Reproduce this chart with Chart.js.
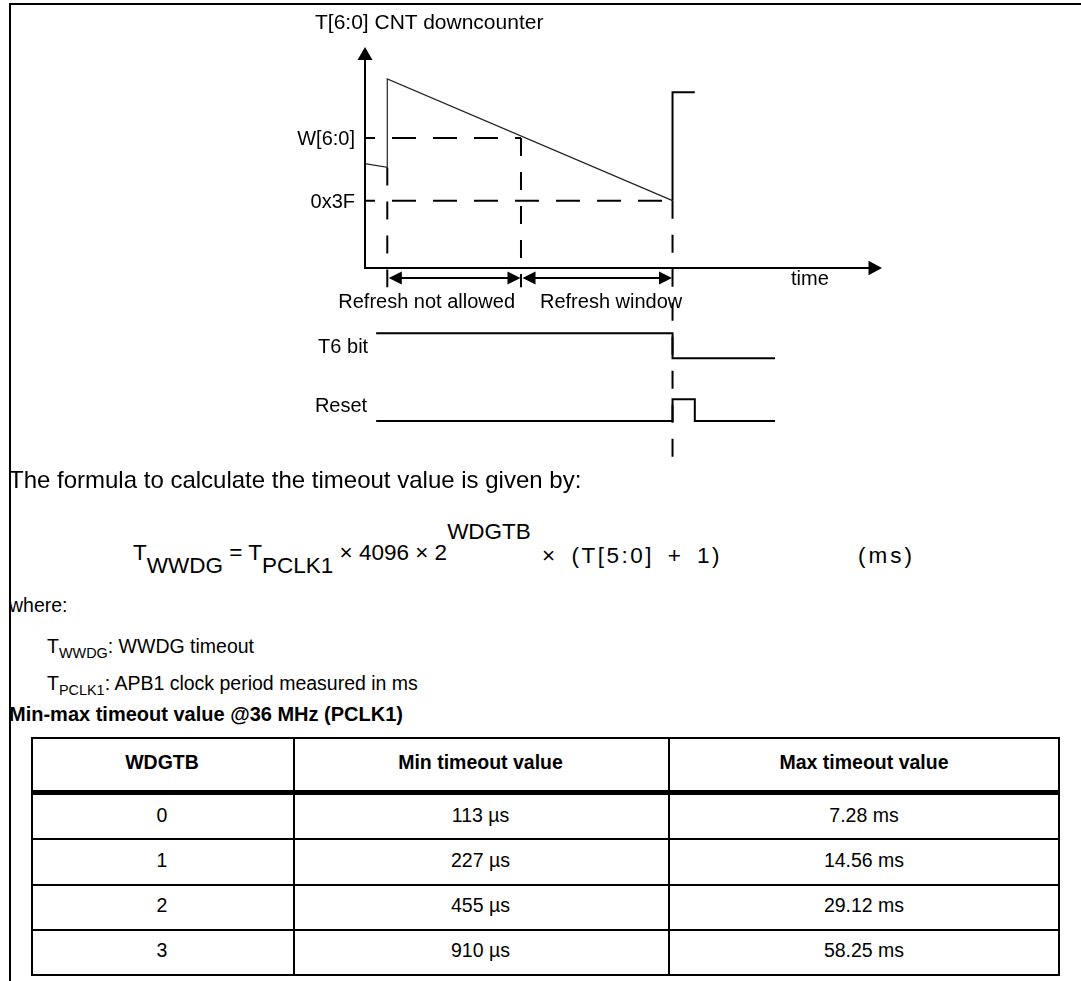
<!DOCTYPE html>
<html>
<head>
<meta charset="utf-8">
<title>WWDG timing diagram</title>
<script src="https://cdn.jsdelivr.net/npm/chart.js@4.4.1/dist/chart.umd.min.js"></script>
<style>
  html, body { margin:0; padding:0; background:#fff; }
  body { width:1081px; height:981px; position:relative; overflow:hidden;
         font-family:"Liberation Sans", Arial, Helvetica, sans-serif; color:#000; }
  .t { position:absolute; white-space:nowrap; line-height:1; }
  .c { transform:translateX(-50%); }
  .hl { position:absolute; background:#000; }
  #diagram { position:absolute; left:0; top:0; width:1081px; height:480px; }
  .lo { position:relative; top:13px; }
  .up { position:relative; top:-21px; }
  .sb { font-size:0.74em; position:relative; top:5px; }
</style>
</head>
<body>
<div class="hl" style="left:9px;top:3px;width:1072px;height:2px"></div>
<div class="hl" style="left:9px;top:3px;width:2px;height:978px"></div>
<div id="diagram"><canvas id="c" width="1081" height="480"></canvas></div>
<div id="txt"></div>
<script>
// ---------------- data ----------------
// time in counter clock ticks (refresh happens at t = 0), counter values in decimal
const cntTime   = [-5, 0, 0, 64];
const cntValue  = [82.5, 80.5, 127, 63];
const reloadTime  = [64, 64, 69];
const reloadValue = [63, 120, 120];
const levelNames  = ['W[6:0]', '0x3F'];
const levelValues = [96, 63];
const levelEnd    = [30, 64];          // time where each threshold line stops
const markerTime   = [0, 30, 64];      // refresh, window opens, timeout
const markerTop    = [80.5, 96, 63];
const markerBottom = [17.5, 17.5, -75];
const t6Time   = [-2.5, 64, 64, 87];
const t6Value  = [1, 1, 0, 0];
const rstTime  = [-2.5, 64, 64, 69, 69, 87];
const rstValue = [0, 0, 1, 1, 0, 0];
const phaseNames = ['Refresh not allowed', 'Refresh window'];
const phaseStart = [0, 30];
const phaseEnd   = [30, 64];
const signalNames = ['T6 bit', 'Reset'];
// table
const colHeads   = ['WDGTB', 'Min timeout value', 'Max timeout value'];
const wdgtb      = ['0', '1', '2', '3'];
const minTimeout = ['113 µs', '227 µs', '455 µs', '910 µs'];
const maxTimeout = ['7.28 ms', '14.56 ms', '29.12 ms', '58.25 ms'];

// ---------------- chart ----------------
const TMIN = -5, TMAX = 111;
const pts = (xs, ys) => xs.map((t, i) => ({ x: t, y: ys[i] }));
const base = { borderColor: '#000', pointRadius: 0, fill: false, tension: 0, clip: false, borderWidth: 2 };
const DASH = [24, 17];

const datasets = [
  Object.assign({}, base, { data: pts(cntTime, cntValue), borderColor: '#222', borderWidth: 1.2, yAxisID: 'y' }),
  Object.assign({}, base, { data: pts(reloadTime, reloadValue), yAxisID: 'y' }),
  ...levelValues.map((v, i) => Object.assign({}, base, {
    data: [{ x: TMIN, y: v }, { x: levelEnd[i], y: v }], borderDash: DASH, borderDashOffset: 14, yAxisID: 'y' })),
  ...markerTime.map((t, i) => Object.assign({}, base, {
    data: [{ x: t, y: markerTop[i] }, { x: t, y: markerBottom[i] }], borderDash: [18, 16], yAxisID: 'y' })),
  Object.assign({}, base, { data: pts(t6Time, t6Value), yAxisID: 'yT6' }),
  Object.assign({}, base, { data: pts(rstTime, rstValue), yAxisID: 'yR' })
];

function head(ctx, tx, ty, dx, dy, len, half) {
  const bx = tx - dx * len, by = ty - dy * len, px = -dy, py = dx;
  ctx.beginPath();
  ctx.moveTo(tx, ty);
  ctx.lineTo(bx + px * half, by + py * half);
  ctx.lineTo(bx - px * half, by - py * half);
  ctx.closePath();
  ctx.fill();
}

const decor = {
  id: 'decor',
  afterDatasetsDraw(chart) {
    const { ctx, chartArea: a, scales } = chart;
    const x = scales.x, y = scales.y;
    ctx.save();
    ctx.strokeStyle = '#000'; ctx.fillStyle = '#000'; ctx.lineWidth = 2;
    // axes
    ctx.beginPath(); ctx.moveTo(a.left, a.bottom + 1); ctx.lineTo(a.left, a.top + 10); ctx.stroke();
    head(ctx, a.left, a.top, 0, -1, 13, 7.5);
    ctx.beginPath(); ctx.moveTo(a.left - 1, a.bottom); ctx.lineTo(a.right - 10, a.bottom); ctx.stroke();
    head(ctx, a.right, a.bottom, 1, 0, 13.5, 7.2);
    // phase double arrows
    const ay = a.bottom + 10;
    phaseStart.forEach((s, i) => {
      const x1 = x.getPixelForValue(s) + 1.5, x2 = x.getPixelForValue(phaseEnd[i]) - 0.5;
      ctx.beginPath(); ctx.moveTo(x1 + 6, ay); ctx.lineTo(x2 - 6, ay); ctx.stroke();
      head(ctx, x1, ay, -1, 0, 13, 6.5);
      head(ctx, x2, ay, 1, 0, 13, 6.5);
    });
    // labels
    ctx.font = '20px "Liberation Sans", Arial, sans-serif';
    ctx.textBaseline = 'alphabetic';
    ctx.textAlign = 'right';
    levelNames.forEach((n, i) => ctx.fillText(n, a.left - 10, y.getPixelForValue(levelValues[i]) + 7));
    ctx.fillText(signalNames[0], x.getPixelForValue(t6Time[0]) - 8, scales.yT6.getPixelForValue(0) - 5);
    ctx.fillText(signalNames[1], x.getPixelForValue(rstTime[0]) - 9, scales.yR.getPixelForValue(0) - 9);
    ctx.textAlign = 'left';
    ctx.fillText('time', a.right - 91, a.bottom + 17);
    ctx.fillText(phaseNames[0], x.getPixelForValue(phaseStart[0]) - 49, a.bottom + 40);
    ctx.fillText(phaseNames[1], x.getPixelForValue(phaseStart[1]) + 19, a.bottom + 40);
    ctx.restore();
  }
};

new Chart(document.getElementById('c'), {
  type: 'line',
  data: { datasets },
  options: {
    responsive: false, animation: false, events: [],
    layout: { padding: { left: 365, top: 47, right: 199, bottom: 212 } },
    plugins: { legend: { display: false }, tooltip: { enabled: false } },
    scales: {
      x:   { type: 'linear', min: TMIN, max: TMAX, display: false },
      y:   { type: 'linear', min: 27.6, max: 143.8, display: false },
      yT6: { type: 'linear', min: 3.612, max: 12.452, display: false },
      yR:  { type: 'linear', min: 7.051, max: 17.235, display: false }
    }
  },
  plugins: [decor]
});

// ---------------- text & table ----------------
const box = document.getElementById('txt');
function put(html, x, baseline, size, cls, weight, extra) {
  const d = document.createElement('div');
  d.className = 't' + (cls ? ' ' + cls : '');
  d.style.left = x + 'px';
  d.style.top = (baseline - 0.8465 * size) + 'px';
  d.style.fontSize = size + 'px';
  if (weight) d.style.fontWeight = weight;
  if (extra) Object.assign(d.style, extra);
  d.innerHTML = html;
  box.appendChild(d);
  return d;
}
function rule(l, t, w, h) {
  const d = document.createElement('div');
  d.className = 'hl';
  Object.assign(d.style, { left: l + 'px', top: t + 'px', width: w + 'px', height: h + 'px' });
  box.appendChild(d);
}
put('T[6:0] CNT downcounter', 315, 29, 21);
put('The formula to calculate the timeout value is given by:', 9, 488, 24);
put('T<span class="lo">WWDG</span> = T<span class="lo">PCLK1</span> × 4096 × 2<span class="up">WDGTB</span>', 133, 561, 22.5);
put('× (T[5:0] + 1)', 542, 564, 22.5, '', '', { letterSpacing: '2.5px', wordSpacing: '5px' });
put('(ms)', 858, 564, 22.5, '', '', { letterSpacing: '3px' });
put('where:', 9, 613, 19.5);
put('T<span class="sb">WWDG</span>: WWDG timeout', 47, 654, 19.5);
put('T<span class="sb">PCLK1</span>: APB1 clock period measured in ms', 47, 691, 19.5);
put('Min-max timeout value @36 MHz (PCLK1)', 9, 721, 20, '', 'bold');

// table geometry
const colX = [31, 293, 668, 1060];
const rowY = [737, 792, 838, 884, 929, 975];
rule(colX[0], rowY[0], colX[3] - colX[0], 2);
rule(colX[0], 790, colX[3] - colX[0], 5);
for (let r = 2; r < rowY.length - 1; r++) rule(colX[0], rowY[r], colX[3] - colX[0], 1.5);
rule(colX[0], rowY[5] - 1, colX[3] - colX[0], 2);
rule(colX[0], rowY[0], 2, rowY[5] + 1 - rowY[0]);
rule(colX[1], rowY[0], 1.5, rowY[5] - rowY[0]);
rule(colX[2], rowY[0], 1.5, rowY[5] - rowY[0]);
rule(colX[3] - 2, rowY[0], 2, rowY[5] + 1 - rowY[0]);
const cx = i => (colX[i] + colX[i + 1]) / 2;
colHeads.forEach((h, i) => put(h, cx(i), 770, 19.5, 'c', 'bold'));
const cols = [wdgtb, minTimeout, maxTimeout];
wdgtb.forEach((_, r) => {
  const b = [823, 868, 913, 958][r];
  cols.forEach((col, i) => put(col[r], cx(i), b, 19.5, 'c'));
});
</script>
</body>
</html>
